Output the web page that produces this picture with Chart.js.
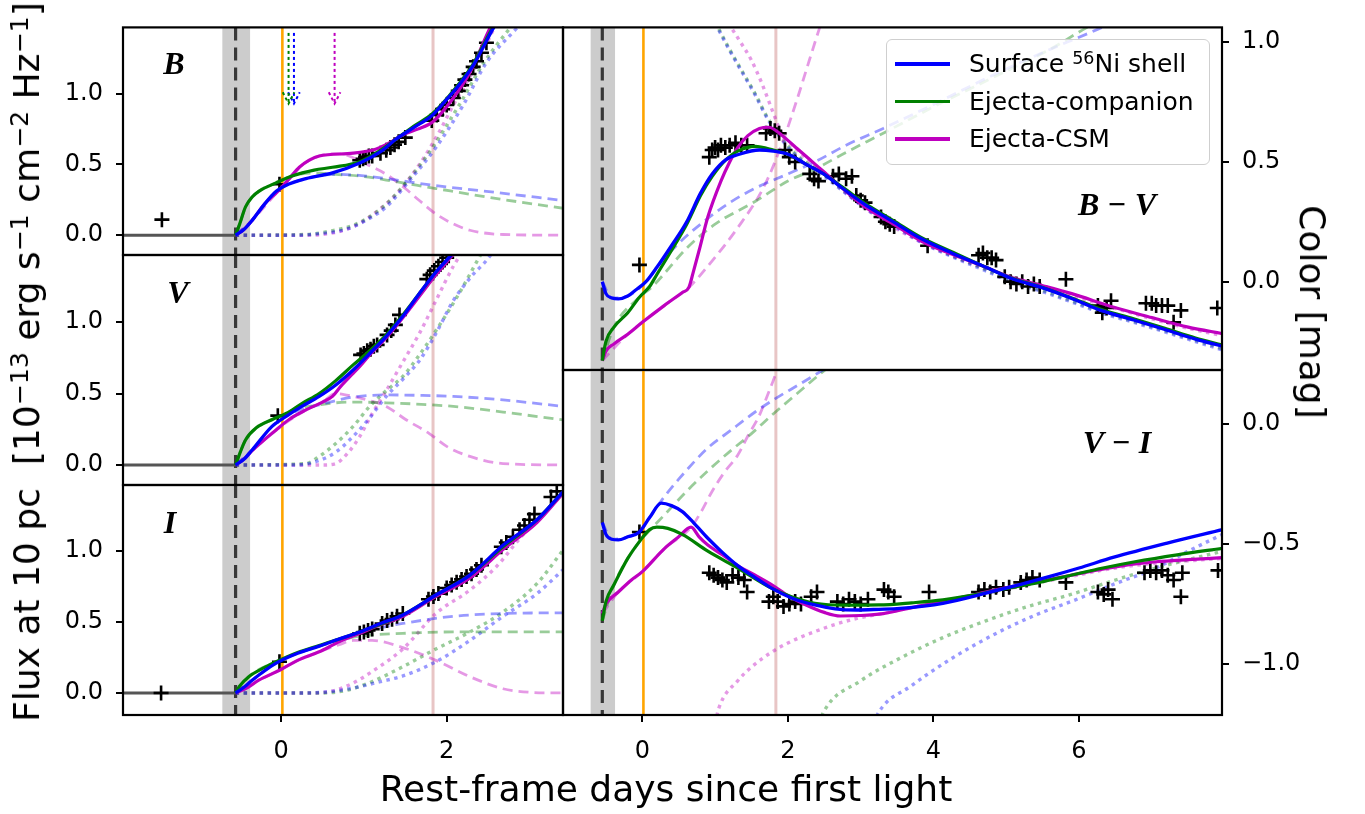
<!DOCTYPE html>
<html>
<head>
<meta charset="utf-8">
<script src="https://cdn.jsdelivr.net/npm/chart.js@4.4.0/dist/chart.umd.min.js"></script>
<style>
  body { margin: 0; background: #fff; }
  #stage { position: relative; width: 1365px; height: 814px; overflow: hidden; font-family: 'DejaVu Sans', sans-serif; color: #000; }
  #stage canvas { position: absolute; left: 0; top: 0; }
  .lbl { position: absolute; white-space: nowrap; line-height: 1; }
  .band { font-family: 'Liberation Serif', serif; font-weight: bold; font-style: italic; font-size: 32px; transform: translate(-50%, -50%); }
  .title { font-size: 36px; }
  sup { font-size: 0.7em; vertical-align: 0.45em; line-height: 0; }
  #legend { position: absolute; left: 886px; top: 39px; width: 322px; height: 124px; border: 1.5px solid #cfcfcf; border-radius: 6px; background: rgba(255,255,255,0.82); font-size: 25px; }
  #legend .row { position: absolute; left: 0; height: 0; }
  #legend .hnd { position: absolute; left: 8px; width: 55px; height: 3.5px; top: -2px; }
  #legend .txt { position: absolute; left: 82px; top: -15px; white-space: nowrap; line-height: 30px; }
</style>
</head>
<body>
<div id="stage">
  <canvas id="cB" width="1365" height="814"></canvas>
  <canvas id="cV" width="1365" height="814"></canvas>
  <canvas id="cI" width="1365" height="814"></canvas>
  <canvas id="cBV" width="1365" height="814"></canvas>
  <canvas id="cVI" width="1365" height="814"></canvas>

  <div class="lbl band" style="left:174px; top:63px">B</div>
  <div class="lbl band" style="left:178px; top:292px">V</div>
  <div class="lbl band" style="left:170px; top:522px">I</div>
  <div class="lbl band" style="left:1117px; top:204px">B − V</div>
  <div class="lbl band" style="left:1117px; top:442px">V − I</div>

  <div id="legend"></div>

  <div class="lbl title" style="left:666px; top:771px; transform:translateX(-50%)">Rest-frame days since first light</div>
  <div class="lbl title" style="left:27px; top:362px; transform:translate(-50%,-50%) rotate(-90deg)">Flux at 10 pc&nbsp; [10<sup>−13</sup> erg s<sup>−1</sup> cm<sup>−2</sup> Hz<sup>−1</sup>]</div>
  <div class="lbl title" style="left:1312px; top:312px; transform:translate(-50%,-50%) rotate(90deg)">Color [mag]</div>
</div>
<script>
// ---- data (days since first light, flux / colour) ----
// markers shared by every panel
const bandDays = [-0.71, -0.375];
const explosionDay = -0.55;
const firstDetectDay = 0.015;
const peakDay = 1.835;
const arrowDays = [0.09, 0.155, 0.646];   // green, blue, magenta arrows in B
const arrowFrom = 1.43, arrowTo = 0.93;

const modelNames = ['Surface <sup>56</sup>Ni shell', 'Ejecta-companion', 'Ejecta-CSM'];

// B band
const obsB = [[-1.44,0.11],[-0.02,0.36],[0.95,0.53],[0.99,0.54],[1.02,0.55],[1.06,0.56],[1.1,0.56],[1.2,0.58],[1.27,0.6],[1.32,0.62],[1.37,0.64],[1.42,0.66],[1.5,0.69],[1.82,0.81],[1.88,0.85],[1.95,0.89],[2.0,0.92],[2.08,0.97],[2.14,1.02],[2.18,1.06],[2.22,1.1],[2.27,1.14],[2.32,1.19],[2.36,1.23],[2.42,1.29],[2.48,1.36]];
const B_shell = [[-0.55,0],[-0.45,0.04],[-0.35,0.105],[-0.2,0.22],[-0.06,0.31],[0.05,0.35],[0.3,0.4],[0.62,0.44],[0.95,0.51],[1.2,0.59],[1.39,0.68],[1.6,0.76],[1.83,0.85],[2.0,0.96],[2.12,1.04],[2.32,1.2],[2.56,1.46],[2.6,1.5]];
const B_comp = [[-0.55,0],[-0.5,0.08],[-0.43,0.2],[-0.35,0.27],[-0.27,0.31],[-0.06,0.37],[0.14,0.42],[0.4,0.46],[0.62,0.48],[0.95,0.52],[1.2,0.6],[1.39,0.68],[1.6,0.77],[1.83,0.86],[2.12,1.05],[2.32,1.21],[2.56,1.47],[2.6,1.5]];
const B_csm = [[-0.55,0],[-0.45,0.04],[-0.35,0.105],[-0.2,0.22],[-0.04,0.31],[0.1,0.4],[0.22,0.48],[0.34,0.53],[0.46,0.56],[0.87,0.58],[1.15,0.61],[1.3,0.65],[1.47,0.71],[1.65,0.75],[1.83,0.8],[2.08,0.97],[2.28,1.15],[2.48,1.41],[2.55,1.5]];
const B_shellD = [[-0.55,0],[-0.35,0.105],[-0.06,0.31],[0.3,0.4],[0.66,0.43],[1.0,0.42],[1.27,0.4],[1.87,0.35],[2.48,0.31],[3.41,0.245]];
const B_compD = [[-0.55,0],[-0.5,0.08],[-0.43,0.2],[-0.27,0.31],[-0.06,0.37],[0.14,0.42],[0.4,0.44],[0.66,0.43],[1.0,0.415],[1.27,0.39],[1.87,0.33],[2.48,0.27],[3.41,0.19]];
const B_csmD = [[-0.55,0],[-0.35,0.105],[-0.04,0.31],[0.22,0.48],[0.46,0.56],[0.7,0.575],[0.82,0.56],[1.0,0.51],[1.27,0.43],[1.5,0.33],[1.67,0.245],[1.87,0.15],[2.08,0.08],[2.28,0.035],[2.68,0.005],[3.41,0]];
const B_shellN = [[-0.55,0],[0.2,0],[0.46,0.01],[0.7,0.03],[0.87,0.06],[1.07,0.12],[1.27,0.2],[1.55,0.385],[1.87,0.62],[2.2,0.92],[2.48,1.22],[2.84,1.46],[2.9,1.5]];
const B_compN = [[-0.55,0],[0.3,0.005],[0.6,0.03],[0.87,0.07],[1.07,0.13],[1.27,0.22],[1.55,0.4],[1.83,0.62],[2.15,0.92],[2.45,1.22],[2.76,1.46],[2.82,1.5]];
const B_csmN = [[-0.55,0],[0.3,0],[0.66,0.02],[0.87,0.06],[1.07,0.13],[1.39,0.29],[1.67,0.5],[1.91,0.73],[2.08,0.92],[2.28,1.12],[2.48,1.35],[2.6,1.5]];

// V band
const obsV = [[-0.04,0.345],[0.96,0.77],[1.0,0.78],[1.04,0.8],[1.08,0.81],[1.12,0.83],[1.16,0.84],[1.28,0.91],[1.33,0.94],[1.38,0.98],[1.43,1.05],[1.76,1.3],[1.8,1.33],[1.85,1.36],[1.9,1.39],[1.95,1.42],[2.0,1.45]];
const V_shell = [[-0.55,0],[-0.45,0.04],[-0.35,0.105],[-0.11,0.27],[0.06,0.34],[0.25,0.41],[0.46,0.48],[0.66,0.56],[0.87,0.665],[1.07,0.78],[1.27,0.9],[1.47,1.04],[1.67,1.2],[1.87,1.35],[2.04,1.46],[2.1,1.5]];
const V_comp = [[-0.55,0],[-0.5,0.08],[-0.43,0.175],[-0.3,0.26],[-0.1,0.32],[0.06,0.36],[0.25,0.43],[0.46,0.5],[0.66,0.59],[0.87,0.7],[1.07,0.8],[1.27,0.91],[1.47,1.05],[1.67,1.2],[1.87,1.35],[2.04,1.46],[2.1,1.5]];
const V_csm = [[-0.55,0],[-0.45,0.04],[-0.35,0.1],[-0.06,0.245],[0.1,0.32],[0.3,0.385],[0.5,0.44],[0.62,0.48],[0.72,0.55],[0.85,0.63],[0.95,0.69],[1.07,0.77],[1.27,0.89],[1.47,1.03],[1.67,1.18],[1.87,1.33],[2.06,1.46],[2.12,1.5]];
const V_shellD = [[-0.55,0],[-0.35,0.105],[-0.11,0.27],[0.06,0.34],[0.25,0.39],[0.46,0.42],[0.66,0.45],[0.87,0.475],[1.27,0.49],[1.67,0.487],[2.08,0.48],[2.68,0.455],[3.41,0.41]];
const V_compD = [[-0.55,0],[-0.43,0.175],[-0.1,0.32],[0.06,0.355],[0.25,0.4],[0.46,0.42],[0.66,0.435],[0.87,0.44],[1.27,0.435],[2.08,0.41],[2.68,0.37],[3.41,0.315]];
const V_csmD = [[-0.55,0],[-0.35,0.1],[-0.06,0.245],[0.3,0.385],[0.5,0.44],[0.66,0.5],[0.87,0.48],[1.07,0.45],[1.27,0.41],[1.5,0.32],[1.79,0.22],[2.0,0.13],[2.28,0.06],[2.68,0.01],[3.41,0]];
const V_shellN = [[-0.55,0],[0.15,0],[0.4,0.02],[0.66,0.09],[0.87,0.2],[1.07,0.33],[1.27,0.48],[1.47,0.6],[1.67,0.73],[1.87,0.92],[2.08,1.15],[2.3,1.32],[2.52,1.46],[2.56,1.5]];
const V_compN = [[-0.55,0],[0.3,0.01],[0.46,0.06],[0.66,0.15],[0.87,0.27],[1.07,0.41],[1.27,0.52],[1.47,0.62],[1.67,0.77],[1.87,0.94],[2.15,1.2],[2.4,1.46],[2.44,1.5]];
const V_csmN = [[-0.55,0],[0.5,0],[0.66,0.01],[0.8,0.08],[0.95,0.2],[1.1,0.36],[1.27,0.52],[1.47,0.72],[1.67,0.92],[1.87,1.15],[2.08,1.39],[2.2,1.5]];

// I band
const obsI = [[-1.45,0],[-0.02,0.22],[0.95,0.42],[1.0,0.43],[1.05,0.44],[1.1,0.45],[1.22,0.49],[1.28,0.51],[1.34,0.52],[1.4,0.54],[1.47,0.56],[1.78,0.66],[1.84,0.68],[1.9,0.7],[2.0,0.74],[2.06,0.76],[2.12,0.78],[2.18,0.8],[2.24,0.82],[2.3,0.84],[2.36,0.87],[2.42,0.9],[2.66,1.03],[2.72,1.06],[2.8,1.1],[2.88,1.15],[2.94,1.18],[3.0,1.22],[3.06,1.26],[3.26,1.38],[3.33,1.42]];
const I_shell = [[-0.55,0],[-0.45,0.04],[-0.35,0.09],[-0.06,0.21],[0.2,0.28],[0.46,0.33],[0.7,0.38],[0.95,0.43],[1.2,0.49],[1.47,0.55],[1.87,0.69],[2.28,0.83],[2.68,1.04],[3.09,1.22],[3.41,1.42]];
const I_comp = [[-0.55,0],[-0.5,0.05],[-0.39,0.115],[-0.2,0.18],[-0.06,0.22],[0.2,0.285],[0.46,0.335],[0.95,0.43],[1.47,0.55],[1.87,0.69],[2.28,0.83],[2.68,1.03],[3.09,1.22],[3.41,1.42]];
const I_csm = [[-0.55,0],[-0.4,0.04],[-0.27,0.09],[-0.02,0.16],[0.2,0.23],[0.46,0.29],[0.7,0.36],[0.95,0.42],[1.2,0.48],[1.47,0.54],[1.87,0.68],[2.28,0.81],[2.68,1.01],[3.09,1.2],[3.41,1.41]];
const I_shellD = [[-0.55,0],[-0.35,0.09],[-0.06,0.21],[0.2,0.28],[0.46,0.33],[0.7,0.38],[0.95,0.42],[1.2,0.46],[1.47,0.49],[2.08,0.54],[2.68,0.56],[3.41,0.565]];
const I_compD = [[-0.55,0],[-0.39,0.115],[-0.06,0.22],[0.2,0.28],[0.46,0.33],[0.7,0.37],[0.95,0.4],[1.47,0.42],[2.08,0.43],[3.41,0.43]];
const I_csmD = [[-0.55,0],[-0.27,0.09],[-0.02,0.16],[0.2,0.23],[0.46,0.29],[0.7,0.34],[0.87,0.37],[1.1,0.37],[1.47,0.32],[1.87,0.23],[2.28,0.115],[2.68,0.03],[3.0,0.005],[3.41,0]];
const I_shellN = [[-0.55,0],[0.25,0],[0.6,0.01],[0.87,0.035],[1.2,0.08],[1.47,0.12],[1.87,0.22],[2.28,0.37],[2.68,0.54],[3.09,0.7],[3.41,0.87]];
const I_compN = [[-0.55,0],[0.5,0],[0.8,0.02],[1.1,0.08],[1.47,0.185],[1.87,0.31],[2.28,0.43],[2.68,0.57],[3.09,0.77],[3.41,1.01]];
const I_csmN = [[-0.55,0],[0.4,0],[0.66,0.02],[0.87,0.07],[1.07,0.14],[1.47,0.31],[1.87,0.56],[2.28,0.725],[2.6,0.89],[2.9,1.1],[3.2,1.28],[3.41,1.41]];

// B - V colour
const obsBV = [[-0.04,0.07],[0.92,0.52],[0.96,0.55],[1.0,0.56],[1.04,0.55],[1.08,0.57],[1.14,0.56],[1.2,0.57],[1.28,0.58],[1.36,0.57],[1.44,0.57],[1.7,0.62],[1.76,0.64],[1.82,0.63],[1.88,0.62],[1.96,0.55],[2.02,0.52],[2.1,0.5],[2.3,0.45],[2.36,0.43],[2.42,0.42],[2.62,0.44],[2.7,0.45],[2.8,0.43],[2.88,0.44],[2.94,0.36],[3.0,0.34],[3.06,0.33],[3.28,0.27],[3.34,0.25],[3.4,0.24],[3.46,0.23],[3.92,0.15],[4.62,0.11],[4.68,0.12],[4.74,0.1],[4.8,0.1],[4.86,0.09],[4.98,0.02],[5.06,0.0],[5.14,-0.01],[5.22,0.0],[5.3,-0.02],[5.38,-0.01],[5.46,-0.02],[5.82,0.01],[6.26,-0.1],[6.32,-0.13],[6.38,-0.11],[6.44,-0.08],[6.92,-0.09],[7.0,-0.09],[7.06,-0.1],[7.14,-0.1],[7.22,-0.1],[7.3,-0.17],[7.4,-0.12],[7.9,-0.11]];
const BV_shell = [[-0.55,0.0],[-0.5,-0.05],[-0.42,-0.068],[-0.33,-0.072],[-0.2,-0.06],[-0.1,-0.037],[0.05,0.0],[0.2,0.06],[0.4,0.15],[0.61,0.25],[0.8,0.37],[0.96,0.45],[1.15,0.51],[1.31,0.53],[1.61,0.55],[1.8,0.545],[2.02,0.53],[2.25,0.49],[2.49,0.45],[2.75,0.39],[3.07,0.32],[3.45,0.25],[3.83,0.18],[4.25,0.12],[4.72,0.06],[5.1,0.01],[5.48,-0.024],[5.9,-0.07],[6.3,-0.12],[6.75,-0.16],[7.18,-0.2],[7.6,-0.24],[7.97,-0.27]];
const BV_comp = [[-0.55,-0.33],[-0.5,-0.25],[-0.39,-0.19],[-0.2,-0.13],[-0.04,-0.065],[0.1,-0.02],[0.2,0.03],[0.4,0.13],[0.61,0.24],[0.8,0.36],[0.96,0.44],[1.15,0.51],[1.31,0.545],[1.55,0.565],[1.8,0.55],[2.02,0.53],[2.25,0.49],[2.49,0.45],[2.75,0.395],[3.07,0.325],[3.45,0.255],[3.83,0.185],[4.25,0.125],[4.72,0.06],[5.1,0.012],[5.48,-0.022],[5.9,-0.068],[6.3,-0.115],[6.75,-0.155],[7.18,-0.195],[7.6,-0.235],[7.97,-0.265]];
const BV_csm = [[-0.55,-0.33],[-0.5,-0.29],[-0.39,-0.26],[-0.2,-0.22],[0,-0.17],[0.3,-0.1],[0.55,-0.045],[0.64,-0.024],[0.7,0.04],[0.78,0.13],[0.9,0.27],[1.08,0.42],[1.2,0.5],[1.31,0.56],[1.45,0.61],[1.61,0.64],[1.74,0.645],[1.84,0.63],[2.0,0.59],[2.13,0.555],[2.3,0.51],[2.49,0.46],[2.75,0.39],[3.07,0.31],[3.45,0.24],[3.83,0.17],[4.25,0.115],[4.72,0.06],[5.1,0.015],[5.48,-0.015],[5.9,-0.05],[6.48,-0.107],[7.0,-0.15],[7.5,-0.19],[7.97,-0.217]];
const BV_shellD = [[-0.55,0.0],[-0.42,-0.068],[-0.2,-0.06],[0.05,0.0],[0.2,0.06],[0.5,0.16],[0.84,0.25],[1.2,0.33],[1.55,0.39],[2.0,0.45],[2.37,0.5],[2.8,0.57],[3.31,0.64],[4.0,0.74],[4.8,0.86],[5.6,0.97],[6.3,1.06],[6.5,1.09]];
const BV_compD = [[-0.55,-0.33],[-0.39,-0.19],[-0.04,-0.065],[0.14,-0.02],[0.61,0.14],[1.0,0.24],[1.55,0.335],[2.0,0.42],[2.37,0.47],[2.8,0.54],[3.31,0.62],[4.0,0.73],[4.8,0.85],[5.6,0.97],[6.1,1.06],[6.3,1.09]];
const BV_csmD = [[-0.55,-0.33],[-0.2,-0.22],[0.3,-0.1],[0.64,-0.024],[0.96,0.087],[1.31,0.225],[1.66,0.39],[1.9,0.56],[2.13,0.765],[2.3,0.93],[2.43,1.055],[2.5,1.12]];
const BV_shellN = [[1.0,1.08],[1.2,0.965],[1.37,0.875],[1.55,0.78],[1.72,0.68],[1.9,0.6],[2.1,0.53],[2.5,0.44],[3.07,0.305],[3.45,0.235],[3.83,0.165],[4.25,0.105],[4.72,0.045],[5.1,-0.005],[5.48,-0.04],[5.9,-0.085],[6.3,-0.13],[6.75,-0.17],[7.18,-0.21],[7.6,-0.25],[7.97,-0.285]];
const BV_compN = [[1.0,1.085],[1.2,0.97],[1.37,0.88],[1.55,0.785],[1.72,0.685],[1.9,0.605],[2.1,0.535],[2.5,0.445],[3.07,0.31],[3.45,0.24],[3.83,0.17],[4.25,0.11],[4.72,0.05],[5.1,0.0],[5.48,-0.035],[5.9,-0.08],[6.3,-0.125],[6.75,-0.165],[7.18,-0.205],[7.6,-0.245],[7.97,-0.28]];
const BV_csmN = [[1.18,1.08],[1.35,1.0],[1.49,0.93],[1.64,0.83],[1.78,0.72],[1.9,0.63],[2.13,0.55],[2.5,0.45],[3.07,0.305],[3.83,0.165],[4.72,0.055],[5.48,-0.02],[6.48,-0.11],[7.5,-0.195],[7.97,-0.225]];

// V - I colour
const obsVI = [[-0.04,-0.45],[0.92,-0.62],[0.98,-0.63],[1.04,-0.64],[1.1,-0.65],[1.16,-0.66],[1.24,-0.63],[1.32,-0.64],[1.4,-0.65],[1.44,-0.7],[1.74,-0.74],[1.8,-0.72],[1.86,-0.74],[1.94,-0.76],[2.02,-0.75],[2.1,-0.74],[2.18,-0.75],[2.32,-0.72],[2.4,-0.7],[2.68,-0.74],[2.76,-0.75],[2.84,-0.73],[2.92,-0.74],[3.0,-0.75],[3.1,-0.73],[3.32,-0.69],[3.38,-0.7],[3.46,-0.72],[3.94,-0.7],[4.62,-0.7],[4.7,-0.69],[4.78,-0.7],[4.86,-0.68],[4.96,-0.69],[5.04,-0.68],[5.2,-0.66],[5.28,-0.65],[5.36,-0.64],[5.46,-0.65],[5.82,-0.66],[6.26,-0.7],[6.34,-0.71],[6.4,-0.69],[6.46,-0.73],[6.9,-0.62],[6.98,-0.61],[7.06,-0.62],[7.14,-0.61],[7.22,-0.63],[7.3,-0.65],[7.42,-0.62],[7.4,-0.72],[7.91,-0.61]];
const VI_shell = [[-0.55,-0.41],[-0.5,-0.46],[-0.42,-0.48],[-0.33,-0.483],[-0.2,-0.47],[-0.04,-0.45],[0.1,-0.39],[0.26,-0.33],[0.4,-0.34],[0.55,-0.365],[0.7,-0.41],[0.9,-0.476],[1.1,-0.535],[1.31,-0.59],[1.55,-0.64],[1.78,-0.685],[2.05,-0.725],[2.37,-0.754],[2.65,-0.77],[2.95,-0.775],[3.25,-0.772],[3.54,-0.768],[4.13,-0.747],[4.72,-0.705],[5.2,-0.668],[5.6,-0.635],[6.0,-0.6],[6.48,-0.555],[7.2,-0.497],[7.97,-0.44]];
const VI_comp = [[-0.55,-0.82],[-0.5,-0.74],[-0.39,-0.67],[-0.2,-0.56],[-0.04,-0.49],[0.1,-0.44],[0.2,-0.43],[0.35,-0.435],[0.55,-0.46],[0.9,-0.53],[1.31,-0.6],[1.78,-0.685],[2.05,-0.72],[2.37,-0.747],[2.8,-0.755],[3.25,-0.754],[3.7,-0.745],[4.13,-0.733],[4.6,-0.71],[5.01,-0.685],[5.45,-0.66],[5.89,-0.63],[6.33,-0.6],[6.77,-0.574],[7.35,-0.545],[7.97,-0.518]];
const VI_csm = [[-0.55,-0.79],[-0.5,-0.75],[-0.33,-0.7],[-0.15,-0.65],[0,-0.615],[0.3,-0.52],[0.5,-0.47],[0.67,-0.43],[0.78,-0.47],[0.9,-0.504],[1.1,-0.545],[1.31,-0.59],[1.55,-0.63],[1.78,-0.67],[2.0,-0.715],[2.25,-0.754],[2.5,-0.785],[2.72,-0.8],[3.0,-0.798],[3.31,-0.79],[3.7,-0.765],[4.13,-0.74],[4.72,-0.7],[5.3,-0.665],[5.89,-0.63],[6.5,-0.595],[7.06,-0.574],[7.5,-0.565],[7.97,-0.557]];
const VI_shellD = [[-0.55,-0.41],[-0.42,-0.48],[-0.2,-0.47],[-0.04,-0.45],[0.1,-0.39],[0.26,-0.32],[0.5,-0.23],[0.9,-0.1],[1.2,-0.03],[1.55,0.05],[1.85,0.11],[2.13,0.16],[2.6,0.245],[2.7,0.26]];
const VI_compD = [[-0.55,-0.82],[-0.39,-0.67],[-0.04,-0.49],[0.08,-0.45],[0.3,-0.38],[0.61,-0.28],[0.9,-0.195],[1.2,-0.115],[1.5,-0.04],[1.78,0.037],[2.1,0.12],[2.49,0.22],[2.6,0.245]];
const VI_csmD = [[-0.55,-0.79],[-0.33,-0.7],[0,-0.615],[0.3,-0.52],[0.67,-0.43],[0.8,-0.37],[0.96,-0.28],[1.13,-0.2],[1.31,-0.13],[1.45,-0.05],[1.61,0.037],[1.72,0.12],[1.81,0.19],[1.87,0.245],[1.9,0.28]];
const VI_shellN = [[3.18,-1.25],[3.25,-1.2],[3.7,-1.09],[4.13,-1.0],[4.6,-0.915],[5.01,-0.85],[5.45,-0.79],[5.89,-0.74],[6.5,-0.665],[7.06,-0.6],[7.5,-0.53],[7.97,-0.46]];
const VI_compN = [[2.43,-1.25],[2.49,-1.2],[3.0,-1.07],[3.54,-0.976],[4.13,-0.89],[4.72,-0.82],[5.3,-0.76],[5.89,-0.71],[6.5,-0.65],[7.06,-0.6],[7.5,-0.565],[7.97,-0.53]];
const VI_csmN = [[1.0,-1.25],[1.05,-1.185],[1.31,-1.07],[1.55,-1.0],[1.78,-0.95],[2.05,-0.905],[2.37,-0.865],[2.65,-0.835],[2.95,-0.81],[3.3,-0.79],[3.7,-0.765],[4.13,-0.74],[4.72,-0.705],[5.3,-0.67],[5.89,-0.635],[6.5,-0.6],[7.06,-0.58],[7.5,-0.57],[7.97,-0.56]];

// ---- styling / layout ----
const W = 1365, H = 814;
const BLUE = '#0000ff', GREEN = '#008000', MAG = '#bf00bf';
const BLUE_L = 'rgba(0,0,255,0.4)', GREEN_L = 'rgba(0,128,0,0.4)', MAG_L = 'rgba(191,0,191,0.4)';
Chart.defaults.font.family = "'DejaVu Sans', sans-serif";
Chart.defaults.color = '#000';

const xy = pts => pts.map(p => ({ x: p[0], y: p[1] }));
function curve(pts, color, width, dash) {
  return { data: xy(pts), showLine: true, borderColor: color, borderWidth: width, borderDash: dash || [],
           borderCapStyle: 'butt', pointRadius: 0, cubicInterpolationMode: 'monotone', capBezierPoints: false, fill: false };
}
function obs(pts) {
  return { data: xy(pts), showLine: false, pointStyle: 'cross', pointRadius: 7.5, pointBorderWidth: 2.6,
           pointBorderColor: '#000', borderColor: '#000', backgroundColor: '#000' };
}
function modelSets(s, c, m, sD, cD, mD, sN, cN, mN, points) {
  const dash = [10, 6], dot = [3.5, 4.5];
  return [
    curve(s, BLUE, 3.3), curve(c, GREEN, 3.2), curve(m, MAG, 3.2),
    obs(points),
    curve(sD, BLUE_L, 2.8, dash), curve(cD, GREEN_L, 2.8, dash), curve(mD, MAG_L, 2.8, dash),
    curve(sN, BLUE_L, 3.4, dot), curve(cN, GREEN_L, 3.4, dot), curve(mN, MAG_L, 3.4, dot)
  ];
}
const preLight = () => curve([[-2.5, 0], [explosionDay, 0]], '#555555', 3);

const decor = {
  id: 'decor',
  beforeDatasetsDraw(chart) {
    const { ctx, chartArea: a, scales: { x } } = chart;
    const px = v => x.getPixelForValue(v);
    ctx.save();
    ctx.beginPath(); ctx.rect(a.left, a.top, a.width, a.height); ctx.clip();
    ctx.fillStyle = '#cccccc';
    ctx.fillRect(px(bandDays[0]), a.top, px(bandDays[1]) - px(bandDays[0]), a.height);
    const vline = (v, color, w, dash) => {
      ctx.beginPath(); ctx.setLineDash(dash); ctx.strokeStyle = color; ctx.lineWidth = w;
      ctx.moveTo(px(v), a.top); ctx.lineTo(px(v), a.bottom); ctx.stroke();
    };
    vline(peakDay, 'rgba(210,140,140,0.5)', 3, []);
    vline(firstDetectDay, '#ffa500', 2.6, []);
    vline(explosionDay, '#383838', 3.2, [13, 7]);
    ctx.restore();
  },
  afterDraw(chart) {
    const { ctx, chartArea: a } = chart;
    ctx.save();
    ctx.strokeStyle = '#000'; ctx.lineWidth = 2.2;
    ctx.strokeRect(a.left, a.top, a.width, a.height);
    ctx.restore();
  }
};

const tickFmt = v => (v < 0 ? '−' : '') + Math.abs(v).toFixed(1);

function panel(id, rect, xr, yr, side, showX, datasets) {
  const yW = 95, xH = showX ? 60 : 0;
  const left = side === 'left';
  return new Chart(document.getElementById(id), {
    type: 'scatter',
    data: { datasets },
    options: {
      responsive: false, animation: false, events: [],
      layout: { padding: {
        left: left ? rect[0] - yW : rect[0],
        right: left ? W - rect[2] : W - rect[2] - yW,
        top: rect[1],
        bottom: H - rect[3] - xH } },
      plugins: { legend: { display: false }, tooltip: { enabled: false } },
      scales: {
        x: {
          type: 'linear', min: xr[0], max: xr[1], display: showX,
          afterFit: s => { s.height = xH; },
          border: { display: false },
          grid: { drawOnChartArea: false, drawTicks: true, tickLength: 7, color: '#000', lineWidth: 2 },
          ticks: { stepSize: 2, includeBounds: false, padding: 15, font: { size: 24 }, color: '#000', maxRotation: 0,
                   callback: v => String(v) }
        },
        y: {
          type: 'linear', position: side, min: yr[0], max: yr[1],
          afterFit: s => { s.width = yW; },
          border: { display: false },
          grid: { drawOnChartArea: false, drawTicks: true, tickLength: 7, color: '#000', lineWidth: 2 },
          ticks: { stepSize: 0.5, includeBounds: false, padding: 13, font: { size: 24 }, color: '#000',
                   callback: tickFmt }
        }
      }
    },
    plugins: [decor]
  });
}

// arrows in the B panel (dotted shaft + open head)
const arrowColors = [GREEN, BLUE, MAG];
const arrowSets = arrowDays.flatMap((t, i) => [
  { ...curve([[t, arrowFrom], [t, arrowTo]], arrowColors[i], 2, [3, 3]), cubicInterpolationMode: 'default' },
  { ...curve([[t - 0.07, arrowTo + 0.08], [t, arrowTo], [t + 0.07, arrowTo + 0.08]], arrowColors[i], 2, [3, 3]), cubicInterpolationMode: 'default' }
]);

const leftX = [-1.91, 3.405], rightX = [-1.09, 7.965];

panel('cB', [123, 25, 563, 255], leftX, [-0.14, 1.469], 'left', false,
  [...modelSets(B_shell, B_comp, B_csm, B_shellD, B_compD, B_csmD, B_shellN, B_compN, B_csmN, obsB), preLight(), ...arrowSets]);
panel('cV', [123, 255, 563, 485], leftX, [-0.14, 1.469], 'left', false,
  [...modelSets(V_shell, V_comp, V_csm, V_shellD, V_compD, V_csmD, V_shellN, V_compN, V_csmN, obsV), preLight()]);
panel('cI', [123, 485, 563, 715], leftX, [-0.155, 1.465], 'left', true,
  [...modelSets(I_shell, I_comp, I_csm, I_shellD, I_compD, I_csmD, I_shellN, I_compN, I_csmN, obsI), preLight()]);
panel('cBV', [563, 25, 1222, 370], rightX, [-0.369, 1.062], 'right', false,
  modelSets(BV_shell, BV_comp, BV_csm, BV_shellD, BV_compD, BV_csmD, BV_shellN, BV_compN, BV_csmN, obsBV));
panel('cVI', [563, 370, 1222, 715], rightX, [-1.2125, 0.225], 'right', true,
  modelSets(VI_shell, VI_comp, VI_csm, VI_shellD, VI_compD, VI_csmD, VI_shellN, VI_compN, VI_csmN, obsVI));

// legend built from the model names / colours
const legend = document.getElementById('legend');
[BLUE, GREEN, MAG].forEach((c, i) => {
  const row = document.createElement('div');
  row.className = 'row';
  row.style.top = [24, 61.5, 99][i] + 'px';
  row.innerHTML = `<span class="hnd" style="background:${c}"></span><span class="txt">${modelNames[i]}</span>`;
  legend.appendChild(row);
});
</script>
</body>
</html>
